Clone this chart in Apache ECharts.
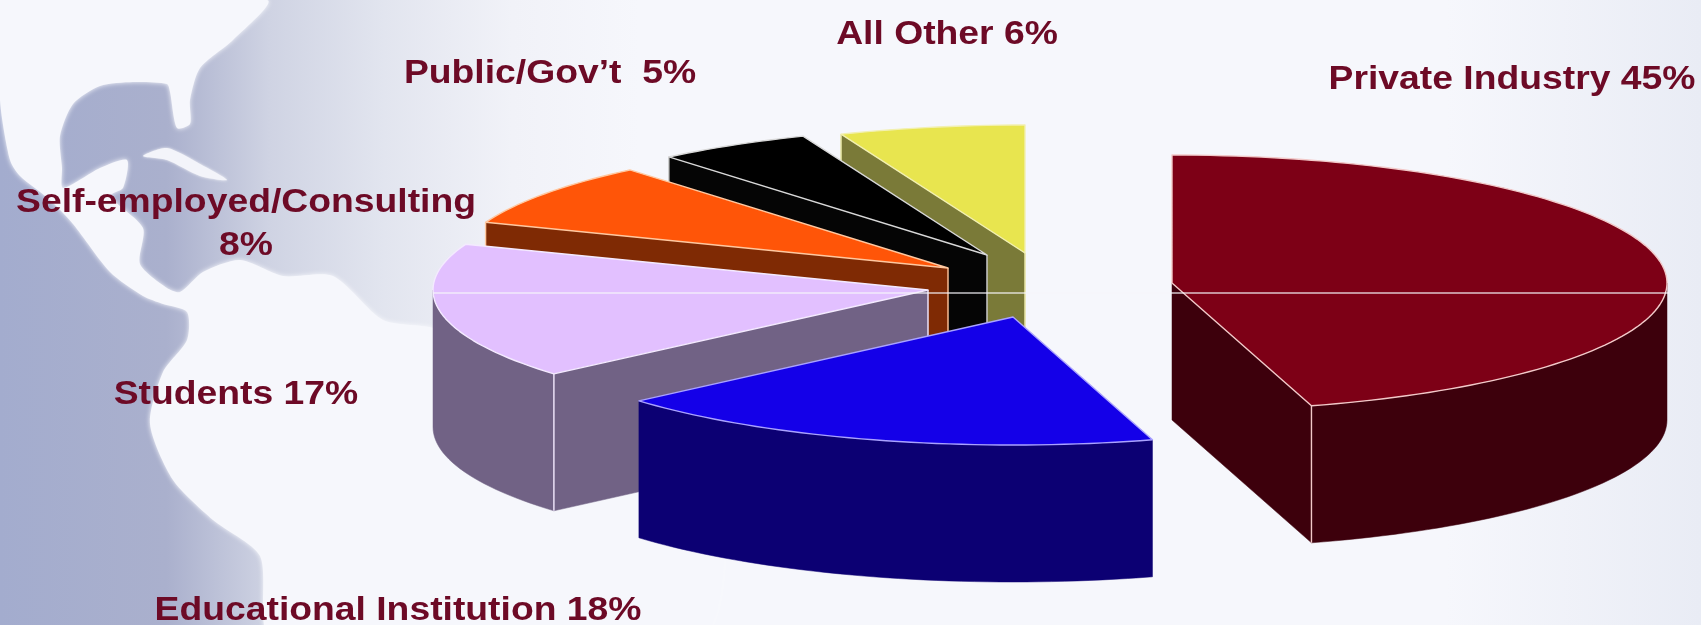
<!DOCTYPE html>
<html>
<head>
<meta charset="utf-8">
<title>Respondents by employment sector</title>
<script src="https://cdn.jsdelivr.net/npm/echarts@6/dist/echarts.min.js"></script>
<style>
  html, body { margin: 0; padding: 0; background: #f6f7fc; }
  #chart { width: 1701px; height: 625px; }
</style>
</head>
<body>
<div id="chart"></div>
<script>
// Employment sectors, clockwise from twelve o'clock
const sectors = ['Private Industry', 'Educational Institution', 'Students', 'Self-employed/Consulting', 'Public/Gov’t', 'All Other'];
const shares = [45, 18, 17, 8, 5, 6];
const labelTexts = ['Private Industry 45%', 'Educational Institution 18%', 'Students 17%', 'Self-employed/Consulting\n8%', 'Public/Gov’t  5%', 'All Other 6%'];

// Colours for each wedge: top face, side wall, outline
const topColors = ['#7d0016', '#1400e8', '#e2c0ff', '#ff5508', '#000000', '#e8e54f'];
const wallColors = ['#3d000c', '#0c0073', '#716285', '#7f2a04', '#050505', '#7a7a38'];
const edgeColors = ['#f2c9c9', '#aaa2ff', '#f4eaff', '#ffc8a0', '#d8d8d8', '#f2f0b0'];

// Exploded wedge centres and label anchors, in page pixels
const wedgeCentres = [[1172, 283], [1013, 317], [928, 290], [948, 268], [987, 255], [1025, 253]];
const labelAnchors = [[1512, 80], [398, 611], [236, 395], [246, 224], [550, 74], [947, 35]];

// Tilted-disc projection
const RX = 495, RY = 128, DEPTH = 137;
const seamY = 293;
const TEXT_COLOR = '#6d0a26';

// Backdrop map outlines
const landOutline = [[0,0],[267,0],[233,40],[200,68],[190,100],[190,124],[177,128],[170,92],[167,84],[133,82],[100,86],[73,104],[60,136],[62,168],[63,188],[100,168],[127,160],[123,188],[110,196],[143,228],[140,264],[167,288],[180,292],[203,272],[240,260],[283,276],[333,276],[383,320],[433,328],[700,420],[700,640],[273,640],[260,556],[213,520],[173,480],[150,424],[163,372],[187,340],[187,312],[163,304],[143,296],[110,272],[73,224],[50,200],[20,176],[10,160],[0,100]];
const cubaOutline = [[143,156],[167,148],[200,164],[227,180],[200,176],[167,160]];

const total = shares.reduce((a, b) => a + b, 0);

function rim(centre, deg, drop) {
  const t = deg * Math.PI / 180;
  return [centre[0] + RX * Math.sin(t), centre[1] - RY * Math.cos(t) + (drop || 0)];
}

function arcPoints(centre, from, to, drop) {
  const pts = [];
  const steps = Math.max(2, Math.ceil(Math.abs(to - from) / 1.5));
  for (let i = 0; i <= steps; i++) pts.push(rim(centre, from + (to - from) * i / steps, drop));
  return pts;
}

function renderWedge(params, api) {
  const i = params.dataIndex;
  let startShare = 0;
  for (let k = 0; k < i; k++) startShare += shares[k];
  const from = startShare / total * 360;
  const to = from + api.value(0) / total * 360;
  const c = wedgeCentres[i];
  const base = [c[0], c[1] + DEPTH];
  const z = (shares.length - i) * 10;
  const children = [];
  const sinFrom = Math.sin(from * Math.PI / 180);
  const sinTo = Math.sin(to * Math.PI / 180);

  const pushWall = pts => children.push({
    type: 'polygon', z2: z, shape: { points: pts },
    style: { fill: wallColors[i], stroke: wallColors[i], lineWidth: 0.5 }
  });
  const pushEdge = (a, b) => children.push({
    type: 'line', z2: z + 2, shape: { x1: a[0], y1: a[1], x2: b[0], y2: b[1] },
    style: { stroke: edgeColors[i], lineWidth: 1.4 }
  });

  // Cut faces that look toward the viewer
  if (sinFrom < -1e-6) {
    const p = rim(c, from);
    pushWall([c, p, rim(c, from, DEPTH), base]);
    pushEdge(p, rim(c, from, DEPTH));
    pushEdge(c, base);
  }
  if (sinTo > 1e-6) {
    const p = rim(c, to);
    pushWall([c, p, rim(c, to, DEPTH), base]);
    pushEdge(p, rim(c, to, DEPTH));
  }
  // Curved outer wall on the near half of the disc
  const a0 = Math.max(from, 90), a1 = Math.min(to, 270);
  if (a1 > a0) {
    pushWall(arcPoints(c, a0, a1).concat(arcPoints(c, a1, a0, DEPTH)));
  }
  // Top face
  children.push({
    type: 'polygon', z2: z + 1,
    shape: { points: [c].concat(arcPoints(c, from, to)) },
    style: { fill: topColors[i], stroke: edgeColors[i], lineWidth: 1.4, lineJoin: 'round' }
  });
  return { type: 'group', children };
}

function renderSeam() {
  return {
    type: 'line',
    shape: { x1: wedgeCentres[2][0] - RX, y1: seamY, x2: wedgeCentres[0][0] + RX + 2, y2: seamY },
    style: { stroke: 'rgba(247,246,250,0.8)', lineWidth: 1.6 }
  };
}

function renderLabel(params) {
  const i = params.dataIndex;
  const a = labelAnchors[i];
  return {
    type: 'text', x: a[0], y: a[1], scaleX: 1.13, originX: 0, originY: 0,
    style: {
      text: labelTexts[i], fill: TEXT_COLOR, align: 'center', verticalAlign: 'middle',
      fontFamily: '"Liberation Sans", Arial, sans-serif', fontWeight: 'bold', fontSize: 33, lineHeight: 43,
      shadowBlur: 1.5, shadowColor: 'rgba(109,10,38,0.6)'
    }
  };
}

const chart = echarts.init(document.getElementById('chart'), null, { renderer: 'canvas' });
chart.setOption({
  animation: false,
  backgroundColor: new echarts.graphic.LinearGradient(0, 0, 1, 0, [
    { offset: 0, color: '#f6f7fc' }, { offset: 0.85, color: '#f6f7fc' }, { offset: 1, color: '#e9ecf5' }
  ]),
  graphic: { elements: [
    { type: 'rect', z: -3, shape: { x: 0, y: 0, width: 640, height: 625 }, style: {
      fill: new echarts.graphic.LinearGradient(0, 0, 640, 0, [
        { offset: 0, color: '#a3acce' }, { offset: 0.26, color: '#aab0cd' },
        { offset: 0.42, color: '#cfd3e3' }, { offset: 0.6, color: '#e2e5ef' }, { offset: 0.8, color: '#f1f2f8' }, { offset: 1, color: '#f6f7fc' }
      ], true)
    } },
    { type: 'polygon', z: -2, shape: { points: landOutline, smooth: 0.25 }, style: { fill: '#f6f7fc', shadowBlur: 5, shadowColor: '#fafbfe' } },
    { type: 'polygon', z: -2, shape: { points: cubaOutline, smooth: 0.25 }, style: { fill: '#f3f4fa', shadowBlur: 3, shadowColor: 'rgba(255,255,255,0.9)' } }
  ] },
  series: [
    { type: 'custom', coordinateSystem: 'none', z: 5, silent: true, renderItem: renderWedge,
      data: shares.map((v, i) => ({ name: sectors[i], value: [v] })) },
    { type: 'custom', coordinateSystem: 'none', z: 6, silent: true, renderItem: renderSeam, data: [[0]] },
    { type: 'custom', coordinateSystem: 'none', z: 7, silent: true, renderItem: renderLabel,
      data: shares.map((v, i) => ({ name: sectors[i], value: [v] })) }
  ]
});
</script>
</body>
</html>
